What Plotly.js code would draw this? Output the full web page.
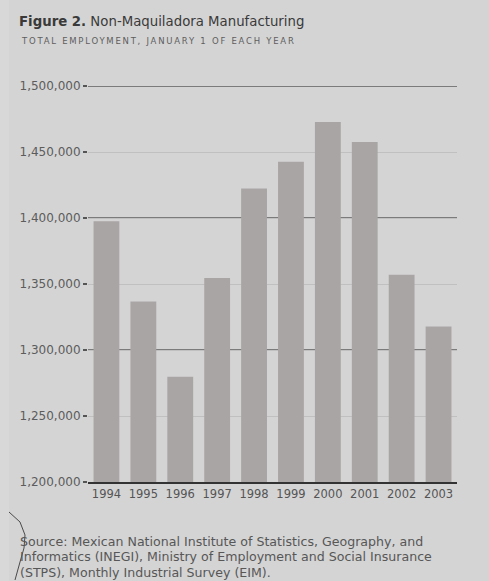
<!DOCTYPE html>
<html>
<head>
<meta charset="utf-8">
<script src="https://cdn.plot.ly/plotly-3.0.1.min.js"></script>
<style>
  html, body { margin: 0; padding: 0; background: #d4d4d4; }
  #chart { width: 489px; height: 581px; }
</style>
</head>
<body>
<div id="chart"></div>
<script>
// ---- data ----
const years = ['1994', '1995', '1996', '1997', '1998', '1999', '2000', '2001', '2002', '2003'];
const employment = [1397500, 1336800, 1279800, 1354600, 1422400, 1442700, 1472800, 1457600, 1357000, 1317800];
const yRange = [1200000, 1500000];
const majorLines = [1300000, 1400000, 1500000];

const titleBold = 'Figure 2.';
const titleRest = 'Non-Maquiladora Manufacturing';
const subtitle = 'TOTAL EMPLOYMENT, JANUARY 1 OF EACH YEAR';
const sourceLines = [
  'Source: Mexican National Institute of Statistics, Geography, and',
  'Informatics (INEGI), Ministry of Employment and Social Insurance',
  '(STPS), Monthly Industrial Survey (EIM).'
];

// ---- layout helpers (pixel -> paper) ----
const W = 489, H = 581;
const M = { l: 88, r: 32, t: 86, b: 99 };
const pw = W - M.l - M.r, ph = H - M.t - M.b;
const px = x => (x - M.l) / pw;
const py = y => (H - M.b - y) / ph;

const annotations = [
  { text: '<b>' + titleBold + '</b> ' + titleRest, x: px(17), y: py(21), xanchor: 'left', yanchor: 'middle',
    font: { family: 'DejaVu Sans', size: 13.3, color: '#3a3a3a' } },
  { text: subtitle, x: px(19), y: py(41), xanchor: 'left', yanchor: 'middle',
    font: { family: 'DejaVu Sans', size: 8.5, color: '#5e5e5e' } }
];
sourceLines.forEach((t, i) => {
  annotations.push({ text: t, x: px(18), y: py(541 + i * 15.5), xanchor: 'left', yanchor: 'middle',
    font: { family: 'DejaVu Sans', size: 12.6, color: '#575757' } });
});
annotations.forEach(a => { a.xref = 'paper'; a.yref = 'paper'; a.showarrow = false; a.align = 'left'; });

const shapes = majorLines.map(v => ({
  type: 'line', xref: 'paper', yref: 'y', x0: 0, x1: 1, y0: v, y1: v,
  layer: 'between', line: { color: '#5e5e5e', width: 1.5 }
}));
// slightly lighter scanned page edge on the left
shapes.push({
  type: 'rect', xref: 'paper', yref: 'paper', layer: 'below',
  x0: px(0), x1: px(9), y0: py(H), y1: py(0),
  fillcolor: '#d8d8d8', line: { width: 0 }
});
// scan artifact: pen arc at the lower-left corner
const arcPts = [[9, 512], [20, 522], [25, 535], [24, 548], [20, 562], [15, 580]];
shapes.push({
  type: 'path', xref: 'paper', yref: 'paper', layer: 'above',
  path: 'M' + arcPts.map(p => px(p[0]) + ',' + py(p[1])).join(' L'),
  line: { color: '#4a4a4a', width: 1 }
});

const trace = {
  type: 'bar', x: years, y: employment,
  marker: { color: '#aaa5a5', line: { width: 0 } },
  hoverinfo: 'x+y'
};

const layout = {
  width: W, height: H,
  margin: M,
  paper_bgcolor: '#d4d4d4',
  plot_bgcolor: '#d4d4d4',
  showlegend: false,
  bargap: 0.3,
  font: { family: 'DejaVu Sans', color: '#555' },
  xaxis: {
    type: 'category',
    showline: true, linecolor: '#333', linewidth: 2, layer: 'below traces',
    showgrid: false, ticks: '', ticklen: 0,
    tickfont: { family: 'DejaVu Sans', size: 11.5, color: '#555' },
    fixedrange: true
  },
  yaxis: {
    range: yRange, dtick: 50000, tick0: 1200000, tickformat: ',d',
    ticks: 'outside', ticklen: 4, tickcolor: '#555', tickwidth: 1.2,
    showgrid: true, gridcolor: '#c0c0c0', gridwidth: 1,
    zeroline: false, showline: false,
    tickfont: { family: 'DejaVu Sans', size: 12, color: '#5c5c5c' },
    fixedrange: true
  },
  shapes: shapes,
  annotations: annotations
};

Plotly.newPlot('chart', [trace], layout, { displayModeBar: false, staticPlot: true }).then(gd => {
  // the subtitle is letter-spaced in the original
  const texts = gd.querySelectorAll('.annotation-text');
  texts.forEach(t => {
    if (t.textContent === subtitle) t.setAttribute('letter-spacing', '1.75px');
  });
});
</script>
</body>
</html>
